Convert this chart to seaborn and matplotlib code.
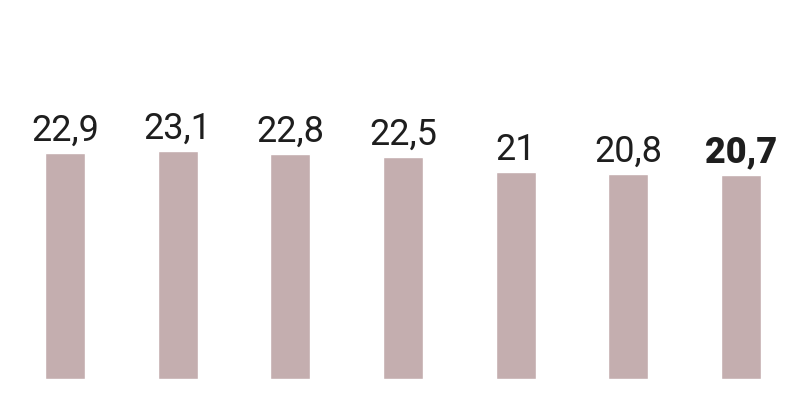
import matplotlib
matplotlib.use('Agg')
import matplotlib.pyplot as plt
import seaborn as sns
import pandas as pd

# data
categories = ['1', '2', '3', '4', '5', '6', '7']
values = [22.9, 23.1, 22.8, 22.5, 21.0, 20.8, 20.7]
labels = ['22,9', '23,1', '22,8', '22,5', '21', '20,8', '20,7']

sns.set_style('white')
plt.rcParams['font.family'] = ['Roboto', 'DejaVu Sans']

df = pd.DataFrame({'cat': categories, 'val': values})

fig = plt.figure(figsize=(8.08, 4.18), dpi=100)
ax = fig.add_axes([0.0108, 0.0933, 0.976, 0.8263])

sns.barplot(data=df, x='cat', y='val', color='#c4aeaf', saturation=1,
            width=0.355, ax=ax)

ax.set_ylim(0, 35)
ax.set_xlim(-0.5, len(categories) - 0.5)
ax.axis('off')

# etiquetas sobre las barras, la última en negrita
for i, (v, lab) in enumerate(zip(values, labels)):
    bold = i == len(values) - 1
    ax.annotate(lab, (i, v), xytext=(0, 3), textcoords='offset points',
                ha='center', va='bottom', fontsize=26, color='#1e1e1e',
                fontweight='black' if bold else 'normal')

fig.savefig('out.png', dpi=100)
